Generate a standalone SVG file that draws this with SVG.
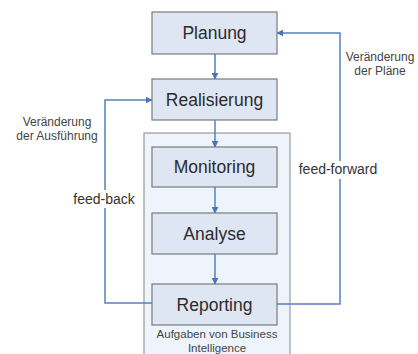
<svg xmlns="http://www.w3.org/2000/svg" width="418" height="354" viewBox="0 0 418 354">
  <style>
    .box { fill: #dfe6f3; stroke: #7a7a7a; stroke-width: 1.2; }
    .container { fill: #eef4fb; stroke: #9a9a9a; stroke-width: 1.2; }
    .label { font-family: "Liberation Sans", Arial, sans-serif; font-size: 17.5px; fill: #2b2b2b; text-anchor: middle; }
    .small { font-family: "Liberation Sans", Arial, sans-serif; font-size: 12px; fill: #444; text-anchor: middle; }
    .note { font-family: "Liberation Sans", Arial, sans-serif; font-size: 11.5px; fill: #444; text-anchor: middle; }
    .mid { font-family: "Liberation Sans", Arial, sans-serif; font-size: 14px; fill: #333; text-anchor: middle; }
    .conn { fill: none; stroke: #5580c0; stroke-width: 1.5; }
  </style>
  <defs>
    <marker id="arrow" viewBox="0 0 10 10" refX="9" refY="5" markerWidth="7" markerHeight="7" orient="auto" markerUnits="userSpaceOnUse">
      <path d="M0,0 L10,5 L0,10 z" fill="#4a75b8"/>
    </marker>
  </defs>
  <rect width="418" height="354" fill="#ffffff"/>

  <!-- Business Intelligence area -->
  <g id="bi-area">
    <rect class="container" x="144" y="133" width="146" height="230"/>
    <text class="note" x="217" y="338">Aufgaben von Business</text>
    <text class="note" x="217" y="351.5">Intelligence</text>
  </g>

  <!-- Connectors -->
  <g id="connectors">
    <line class="conn" x1="215" y1="54" x2="215" y2="79" marker-end="url(#arrow)"/>
    <line class="conn" x1="215" y1="120" x2="215" y2="147" marker-end="url(#arrow)"/>
    <line class="conn" x1="215" y1="187" x2="215" y2="213" marker-end="url(#arrow)"/>
    <line class="conn" x1="215" y1="254" x2="215" y2="284" marker-end="url(#arrow)"/>
    <!-- feed-back loop -->
    <polyline class="conn" points="153,303 105,303 105,100 152,100" marker-end="url(#arrow)"/>
    <!-- feed-forward loop -->
    <polyline class="conn" points="277,304 340,304 340,33 277,33" marker-end="url(#arrow)"/>
  </g>

  <!-- Loop labels -->
  <g id="feedback-label">
    <rect x="71" y="190" width="66" height="18" fill="#ffffff"/>
    <text class="mid" x="104" y="204">feed-back</text>
    <text class="small" x="57" y="126">Veränderung</text>
    <text class="small" x="57" y="140">der Ausführung</text>
  </g>
  <g id="feedforward-label">
    <rect x="294" y="161" width="88" height="18" fill="#ffffff"/>
    <text class="mid" x="338" y="174">feed-forward</text>
    <text class="small" x="380" y="61">Veränderung</text>
    <text class="small" x="380" y="75">der Pläne</text>
  </g>

  <!-- Process steps -->
  <g id="planung">
    <rect class="box" x="152" y="12" width="125" height="42"/>
    <text class="label" x="214.5" y="39">Planung</text>
  </g>
  <g id="realisierung">
    <rect class="box" x="152" y="79" width="125" height="41"/>
    <text class="label" x="214.5" y="106">Realisierung</text>
  </g>
  <g id="monitoring">
    <rect class="box" x="152" y="147" width="125" height="40"/>
    <text class="label" x="214.5" y="173">Monitoring</text>
  </g>
  <g id="analyse">
    <rect class="box" x="152" y="213" width="125" height="41"/>
    <text class="label" x="214.5" y="240">Analyse</text>
  </g>
  <g id="reporting">
    <rect class="box" x="152" y="284" width="125" height="41"/>
    <text class="label" x="214.5" y="311">Reporting</text>
  </g>
</svg>
